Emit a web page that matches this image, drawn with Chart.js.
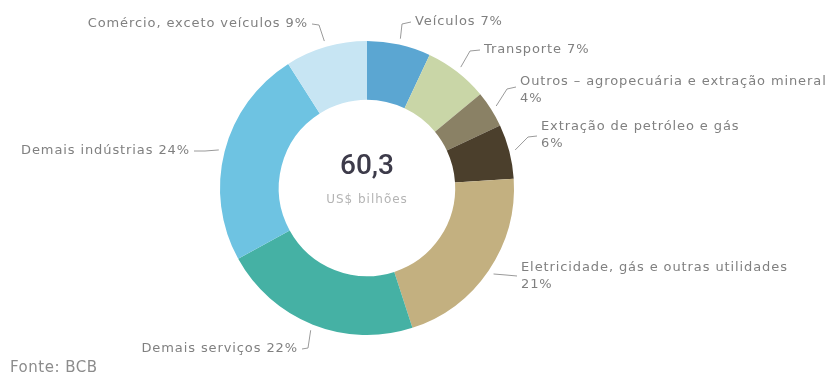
<!DOCTYPE html>
<html>
<head>
<meta charset="utf-8">
<script src="https://cdn.jsdelivr.net/npm/chart.js@4/dist/chart.umd.min.js"></script>
<style>
  html, body { margin: 0; padding: 0; background: #fff; }
  #wrap { width: 834px; height: 377px; position: relative; }
</style>
</head>
<body>
<div id="wrap"><canvas id="grafico" width="834" height="377"></canvas></div>
<script>
'use strict';

// fatias, em sentido horário a partir do topo
const categorias = [
  'Veículos',
  'Transporte',
  'Outros – agropecuária e extração mineral',
  'Extração de petróleo e gás',
  'Eletricidade, gás e outras utilidades',
  'Demais serviços',
  'Demais indústrias',
  'Comércio, exceto veículos'
];
const participacao = [7, 7, 4, 6, 21, 22, 24, 9];
const cores = ['#5ba6d2', '#c9d6a7', '#8a8165', '#4b3f2c', '#c3b080', '#45b1a4', '#6ec3e2', '#c7e5f3'];
const total = '60,3';
const unidade = 'US$ bilhões';
const fonte = 'Fonte: BCB';

// onde cada rótulo fica e por onde passa a linha de chamada
const rotulos = [
  { x: 415, y: 22, align: 'left', quebra: false, joelho: [402, 24], fim: [411, 22] },
  { x: 484, y: 50, align: 'left', quebra: false, joelho: [470, 51], fim: [480, 50] },
  { x: 520, y: 82, align: 'left', quebra: true, joelho: [507, 89], fim: [516, 87] },
  { x: 541, y: 127, align: 'left', quebra: true, joelho: [528, 137], fim: [537, 136] },
  { x: 521, y: 268, align: 'left', quebra: true, joelho: [506, 275], fim: [517, 276] },
  { x: 298, y: 349, align: 'right', quebra: false, joelho: [308, 348], fim: [302, 349] },
  { x: 190, y: 151, align: 'right', quebra: false, joelho: [205, 151], fim: [194, 151] },
  { x: 308, y: 24, align: 'right', quebra: false, joelho: [319, 25], fim: [312, 24] }
];

const rotuloPlugin = {
  id: 'rotulos',
  afterDraw(chart) {
    const ctx = chart.ctx;
    const arcos = chart.getDatasetMeta(0).data;
    ctx.save();

    arcos.forEach((arco, i) => {
      const p = arco.getProps(['x', 'y', 'startAngle', 'endAngle', 'outerRadius'], true);
      const meio = (p.startAngle + p.endAngle) / 2;
      const r = p.outerRadius + 6;
      const r0 = rotulos[i];

      ctx.strokeStyle = '#9a9a9a';
      ctx.lineWidth = 1;
      ctx.beginPath();
      ctx.moveTo(p.x + Math.cos(meio) * r, p.y + Math.sin(meio) * r);
      ctx.lineTo(r0.joelho[0], r0.joelho[1]);
      ctx.lineTo(r0.fim[0], r0.fim[1]);
      ctx.stroke();

      ctx.fillStyle = '#808080';
      ctx.font = '13px "DejaVu Sans"';
      ctx.letterSpacing = '0.9px';
      ctx.textAlign = r0.align;
      ctx.textBaseline = 'middle';
      const pct = participacao[i] + '%';
      if (r0.quebra) {
        ctx.fillText(categorias[i], r0.x, r0.y);
        ctx.fillText(pct, r0.x, r0.y + 17);
      } else {
        ctx.fillText(categorias[i] + ' ' + pct, r0.x, r0.y);
      }
    });

    // total no centro
    const c = arcos[0];
    ctx.textAlign = 'center';
    ctx.textBaseline = 'middle';
    ctx.letterSpacing = '0px';
    ctx.fillStyle = '#3d3b4a';
    ctx.font = '500 28px Roboto';
    ctx.fillText(total, c.x, c.y - 21);
    ctx.fillStyle = '#b4b4b4';
    ctx.font = '12px "DejaVu Sans"';
    ctx.letterSpacing = '1px';
    ctx.fillText(unidade, c.x, c.y + 12);

    ctx.textAlign = 'left';
    ctx.fillStyle = '#8c8c8c';
    ctx.font = '15px "DejaVu Sans"';
    ctx.letterSpacing = '0.5px';
    ctx.fillText(fonte, 10, 368);
    ctx.restore();
  }
};

new Chart(document.getElementById('grafico'), {
  type: 'doughnut',
  data: {
    labels: categorias,
    datasets: [{
      data: participacao,
      backgroundColor: cores,
      borderWidth: 0
    }]
  },
  options: {
    responsive: false,
    animation: false,
    cutout: '60%',
    layout: { padding: { top: 41, bottom: 42, left: 220, right: 320 } },
    plugins: {
      legend: { display: false },
      tooltip: { enabled: false }
    }
  },
  plugins: [rotuloPlugin]
});
</script>
</body>
</html>
